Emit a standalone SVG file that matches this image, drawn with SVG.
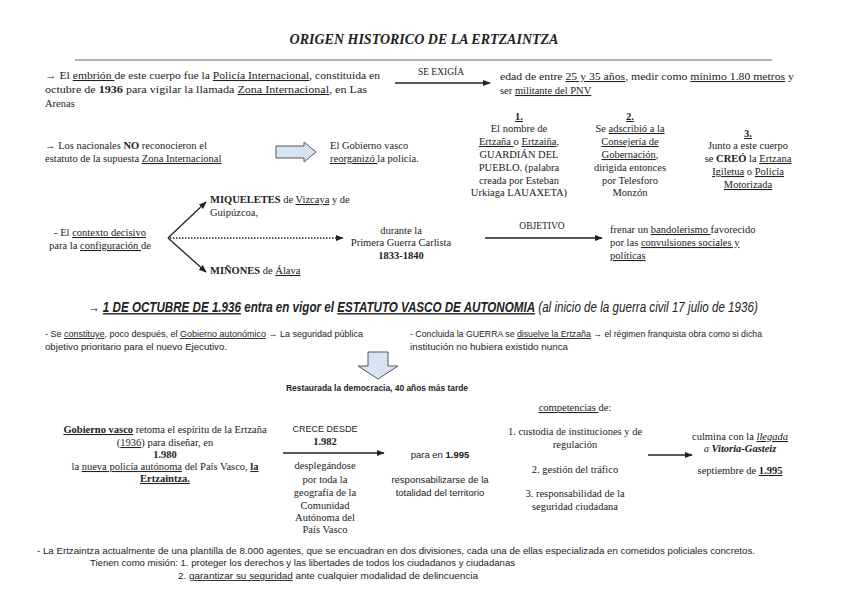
<svg xmlns="http://www.w3.org/2000/svg" width="848" height="600" viewBox="0 0 848 600">
<style>
text{font-family:"Liberation Serif","DejaVu Serif",serif;font-size:10.5px;fill:#222}
.b{font-weight:bold}
.u{text-decoration:underline}
.i{font-style:italic}
.c{text-anchor:middle}
.s{font-family:"Liberation Sans",Arial,sans-serif;font-size:9px}
.h{font-family:"Liberation Sans",Arial,sans-serif;font-size:14px;font-style:italic}
.ln{stroke:#222;stroke-width:1.3;fill:none}
.blk{fill:#d6e4f3;stroke:#555;stroke-width:1}
</style>
<defs>
<marker id="ah" viewBox="0 0 10 10" refX="9" refY="5" markerWidth="6" markerHeight="6" orient="auto"><path d="M0,1 L10,5 L0,9 z" fill="#222"/></marker>
</defs>
<rect width="848" height="600" fill="#fff"/>
<g id="title">
<text x="424" y="44" class="c b i" style="font-size:14px">ORIGEN HISTORICO DE LA ERTZAINTZA</text>
<line x1="75" y1="60" x2="772" y2="60" stroke="#999" stroke-width="1.5"/>
</g>
<g id="connectors">
<line class="ln" x1="395" y1="83" x2="490" y2="83" marker-end="url(#ah)"/>
<line class="ln" x1="168" y1="238" x2="206" y2="202" marker-end="url(#ah)"/>
<line class="ln" x1="168" y1="238" x2="206" y2="272" marker-end="url(#ah)"/>
<line class="ln" x1="170" y1="238" x2="343" y2="238" stroke-dasharray="1.5,1.5" stroke-width="1" marker-end="url(#ah)"/>
<line class="ln" x1="485" y1="238" x2="602" y2="238" marker-end="url(#ah)"/>
<line class="ln" x1="283" y1="453" x2="384" y2="453" marker-end="url(#ah)"/>
<line class="ln" x1="648" y1="455" x2="692" y2="455" marker-end="url(#ah)"/>
<path class="blk" d="M276,146 L304,146 L304,142 L316,152 L304,162 L304,158 L276,158 Z"/>
<path class="blk" d="M368,352 L388,352 L388,366 L398,366 L378,379 L358,366 L368,366 Z"/>
</g>
<g id="n-embrion">
<text x="45" y="79" textLength="335" lengthAdjust="spacingAndGlyphs">→ El <tspan class="u">embrión </tspan>de este cuerpo fue la <tspan class="u">Policía Internacional</tspan>, constituida en</text>
<text x="45" y="93" textLength="322" lengthAdjust="spacingAndGlyphs">octubre de <tspan class="b">1936</tspan> para vigilar la llamada <tspan class="u">Zona Internacional</tspan>, en Las</text>
<text x="45" y="107">Arenas</text>
</g>
<g id="l-exigia"><text x="441" y="75" class="c" style="font-size:9.5px">SE EXIGÍA</text></g>
<g id="n-requisitos">
<text x="500" y="80" textLength="294" lengthAdjust="spacingAndGlyphs">edad de entre <tspan class="u">25 y 35 años</tspan>, medir como <tspan class="u">mínimo 1.80 metros</tspan> y</text>
<text x="500" y="94">ser <tspan class="u">militante del PNV</tspan></text>
</g>
<g id="n-col1">
<text x="519" y="120" class="c b u">1.</text>
<text x="519" y="132" class="c">El nombre de</text>
<text x="519" y="145" class="c"><tspan class="u">Ertzaña </tspan>o <tspan class="u">Ertzaiña</tspan>,</text>
<text x="519" y="158" class="c">GUARDIÁN DEL</text>
<text x="519" y="171" class="c">PUEBLO. (palabra</text>
<text x="519" y="184" class="c">creada por Esteban</text>
<text x="519" y="196" class="c">Urkiaga LAUAXETA)</text>
</g>
<g id="n-col2">
<text x="630" y="120" class="c b u">2.</text>
<text x="630" y="132" class="c">Se <tspan class="u">adscribió a la</tspan></text>
<text x="630" y="145" class="c u">Consejería de</text>
<text x="630" y="158" class="c"><tspan class="u">Gobernación</tspan>,</text>
<text x="630" y="171" class="c">dirigida entonces</text>
<text x="630" y="184" class="c">por Telesforo</text>
<text x="630" y="196" class="c">Monzón</text>
</g>
<g id="n-col3">
<text x="748" y="137" class="c b u">3.</text>
<text x="748" y="149" class="c">Junto a este cuerpo</text>
<text x="748" y="162" class="c">se <tspan class="b">CREÓ</tspan> la <tspan class="u">Ertzana</tspan></text>
<text x="748" y="175" class="c"><tspan class="u">Igiletua</tspan> o <tspan class="u">Policía</tspan></text>
<text x="748" y="188" class="c u">Motorizada</text>
</g>
<g id="n-nacionales">
<text x="45" y="149">→ Los nacionales <tspan class="b">NO</tspan> reconocieron el</text>
<text x="45" y="162">estatuto de la supuesta <tspan class="u">Zona Internacional</tspan></text>
</g>
<g id="n-gobierno">
<text x="330" y="149">El Gobierno vasco</text>
<text x="330" y="162"><tspan class="u">reorganizó </tspan>la policía.</text>
</g>
<g id="n-contexto">
<text x="100" y="236" class="c">- El <tspan class="u">contexto decisivo</tspan></text>
<text x="100" y="249" class="c">para la <tspan class="u">configuración </tspan>de</text>
</g>
<g id="n-miqueletes">
<text x="210" y="203"><tspan class="b">MIQUELETES</tspan> de <tspan class="u">Vizcaya</tspan> y de</text>
<text x="210" y="216">Guipúzcoa,</text>
</g>
<g id="n-minones"><text x="210" y="274"><tspan class="b">MIÑONES</tspan> de <tspan class="u">Álava</tspan></text></g>
<g id="n-carlista">
<text x="401" y="234" class="c">durante la</text>
<text x="401" y="246" class="c">Primera Guerra Carlista</text>
<text x="401" y="259" class="c b">1833-1840</text>
</g>
<g id="l-objetivo"><text x="542" y="229" class="c" style="font-size:9.5px">OBJETIVO</text></g>
<g id="n-frenar">
<text x="610" y="233">frenar un <tspan class="u">bandolerismo </tspan>favorecido</text>
<text x="610" y="246">por las <tspan class="u">convulsiones sociales y</tspan></text>
<text x="610" y="259" class="u">políticas</text>
</g>
<g id="n-octubre">
<text class="h" transform="translate(88,312) scale(0.83,1)" style="font-size:14px"><tspan class="b">→ </tspan><tspan class="b u">1 DE OCTUBRE DE 1.936</tspan><tspan class="b"> entra en vigor el </tspan><tspan class="b u">ESTATUTO VASCO DE AUTONOMIA</tspan> (al inicio de la guerra civil 17 julio de 1936)</text>
</g>
<g id="n-constituye">
<text x="45" y="337" class="s" textLength="318" lengthAdjust="spacingAndGlyphs">- Se <tspan class="u">constituye</tspan>, poco después, el <tspan class="u">Gobierno autonómico</tspan> → La seguridad pública</text>
<text x="45" y="350" class="s" textLength="182" lengthAdjust="spacingAndGlyphs">objetivo prioritario para el nuevo Ejecutivo.</text>
</g>
<g id="n-concluida">
<text x="410" y="337" class="s" textLength="352" lengthAdjust="spacingAndGlyphs">- Concluida la GUERRA se <tspan class="u">disuelve la Ertzaña</tspan> → el régimen franquista obra como si dicha</text>
<text x="410" y="350" class="s" textLength="158" lengthAdjust="spacingAndGlyphs">institución no hubiera existido nunca</text>
</g>
<g id="n-restaurada"><text x="377" y="391" class="c b s" textLength="182" lengthAdjust="spacingAndGlyphs">Restaurada la democracia, 40 años más tarde</text></g>
<g id="n-retoma">
<text x="165" y="433" class="c"><tspan class="b u">Gobierno vasco</tspan> retoma el espíritu de la Ertzaña</text>
<text x="165" y="446" class="c">(<tspan class="u">1936</tspan>) para diseñar, en</text>
<text x="165" y="458" class="c b">1.980</text>
<text x="165" y="470" class="c">la <tspan class="u">nueva policía autónoma</tspan> del País Vasco, <tspan class="b u">la</tspan></text>
<text x="165" y="482" class="c b u">Ertzaintza.</text>
</g>
<g id="l-crece">
<text x="325" y="432" class="c s">CRECE DESDE</text>
<text x="325" y="445" class="c b">1.982</text>
</g>
<g id="n-desplegandose">
<text x="325" y="469" class="c">desplegándose</text>
<text x="325" y="483" class="c">por toda la</text>
<text x="325" y="496" class="c">geografía de la</text>
<text x="325" y="509" class="c">Comunidad</text>
<text x="325" y="521" class="c">Autónoma del</text>
<text x="325" y="533" class="c">País Vasco</text>
</g>
<g id="n-para">
<text x="440" y="458" class="c s" style="font-size:9.5px">para en <tspan class="b">1.995</tspan></text>
<text x="440" y="483" class="c s" style="font-size:9.5px">responsabilizarse de la</text>
<text x="440" y="496" class="c s" style="font-size:9.5px">totalidad del territorio</text>
</g>
<g id="n-competencias">
<text x="575" y="411" class="c"><tspan class="u">competencias </tspan>de:</text>
<text x="575" y="435" class="c">1. custodia de instituciones y de</text>
<text x="575" y="448" class="c">regulación</text>
<text x="575" y="473" class="c">2. gestión del tráfico</text>
<text x="575" y="497" class="c">3. responsabilidad de la</text>
<text x="575" y="510" class="c">seguridad ciudadana</text>
</g>
<g id="n-culmina">
<text x="740" y="440" class="c">culmina con la <tspan class="i u">llegada</tspan></text>
<text x="740" y="452" class="c i"><tspan>a </tspan><tspan class="b">Vitoria-Gasteiz</tspan></text>
<text x="740" y="474" class="c">septiembre de <tspan class="b u">1.995</tspan></text>
</g>
<g id="n-actual">
<text x="37" y="554" class="s" textLength="718" lengthAdjust="spacingAndGlyphs">- La Ertzaintza actualmente de una plantilla de 8.000 agentes, que se encuadran en dos divisiones, cada una de ellas especializada en cometidos policiales concretos.</text>
<text x="90" y="566" class="s" textLength="425" lengthAdjust="spacingAndGlyphs">Tienen como misión: 1. proteger los derechos y las libertades de todos los ciudadanos y ciudadanas</text>
<text x="178" y="579" class="s" textLength="300" lengthAdjust="spacingAndGlyphs">2. <tspan class="u">garantizar su seguridad</tspan> ante cualquier modalidad de delincuencia</text>
</g>
</svg>
